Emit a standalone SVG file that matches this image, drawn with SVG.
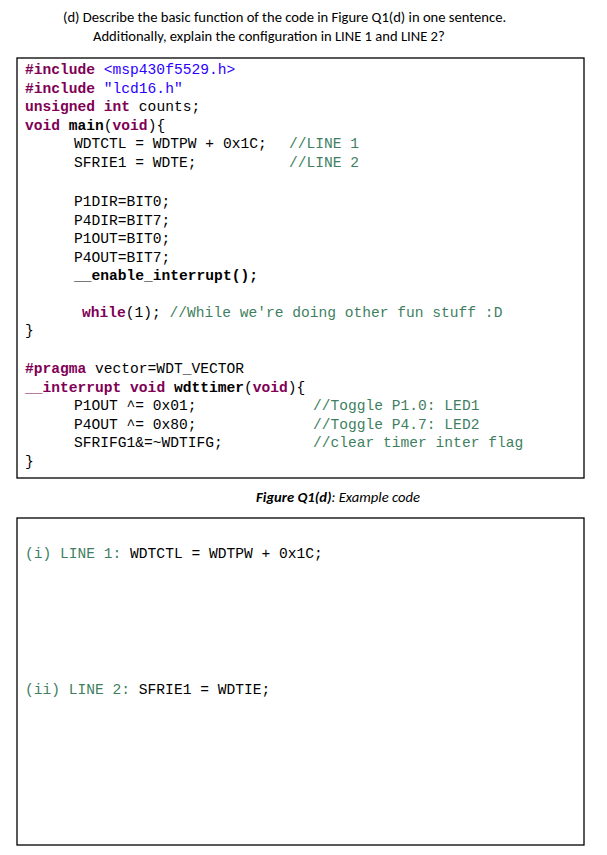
<svg xmlns="http://www.w3.org/2000/svg" width="607" height="855" viewBox="0 0 607 855">
<style>
.h{font-family:"Carlito","Liberation Sans",sans-serif;font-size:14.6px;fill:#000}
.c{font-family:"Liberation Mono","DejaVu Sans Mono",monospace;font-size:14.6px;fill:#000}
.k{fill:#7f0055;font-weight:bold}
.s{fill:#2a00ff}
.g{fill:#3f7f5f}
.box{fill:#fff;stroke:#000;stroke-width:1.3}
</style>
<rect width="607" height="855" fill="#fff"/>
<text class="h" x="63" y="22">(d)  Describe the basic function of the code in Figure Q1(d) in one sentence.</text>
<text class="h" x="93" y="41">Additionally, explain the configuration in LINE 1 and LINE 2?</text>
<g id="code">
<rect class="box" x="17" y="58" width="567" height="420"/>
<text class="c" x="25" y="74"><tspan class="k">#include</tspan> <tspan class="s">&lt;msp430f5529.h&gt;</tspan></text>
<text class="c" x="25" y="92.5"><tspan class="k">#include</tspan> <tspan class="s">"lcd16.h"</tspan></text>
<text class="c" x="25" y="111"><tspan class="k">unsigned</tspan> <tspan class="k">int</tspan> counts;</text>
<text class="c" x="25" y="129.5"><tspan class="k">void</tspan> <tspan font-weight="bold">main</tspan>(<tspan class="k">void</tspan>){</text>
<text class="c" x="74" y="148">WDTCTL = WDTPW + 0x1C;</text><text class="c g" x="289" y="148">//LINE 1</text>
<text class="c" x="74" y="166.5">SFRIE1 = WDTE;</text><text class="c g" x="289" y="166.5">//LINE 2</text>
<text class="c" x="74" y="206">P1DIR=BIT0;</text>
<text class="c" x="74" y="224.5">P4DIR=BIT7;</text>
<text class="c" x="74" y="243">P1OUT=BIT0;</text>
<text class="c" x="74" y="261.5">P4OUT=BIT7;</text>
<text class="c" x="74" y="280" font-weight="bold">__enable_interrupt();</text>
<text class="c" x="82" y="317"><tspan class="k">while</tspan>(1); <tspan class="g">//While we're doing other fun stuff :D</tspan></text>
<text class="c" x="25" y="335">}</text>
<text class="c" x="25" y="373"><tspan class="k">#pragma</tspan> vector=WDT_VECTOR</text>
<text class="c" x="25" y="391.5"><tspan class="k">__interrupt</tspan> <tspan class="k">void</tspan> <tspan font-weight="bold">wdttimer</tspan>(<tspan class="k">void</tspan>){</text>
<text class="c" x="74" y="410">P1OUT ^= 0x01;</text><text class="c g" x="313" y="410">//Toggle P1.0: LED1</text>
<text class="c" x="74" y="428.5">P4OUT ^= 0x80;</text><text class="c g" x="313" y="428.5">//Toggle P4.7: LED2</text>
<text class="c" x="74" y="447">SFRIFG1&amp;=~WDTIFG;</text><text class="c g" x="313" y="447">//clear timer inter flag</text>
<text class="c" x="25" y="466">}</text>
</g>
<text class="h" x="338" y="502" text-anchor="middle" font-weight="bold" font-style="italic">Figure Q1(d)<tspan font-weight="normal">: Example code</tspan></text>
<g id="answer">
<rect class="box" x="17" y="518" width="567" height="327"/>
<text class="c" x="25" y="558"><tspan class="g">(i) LINE 1:</tspan> WDTCTL = WDTPW + 0x1C;</text>
<text class="c" x="25" y="694"><tspan class="g">(ii) LINE 2:</tspan> SFRIE1 = WDTIE;</text>
</g>
</svg>
